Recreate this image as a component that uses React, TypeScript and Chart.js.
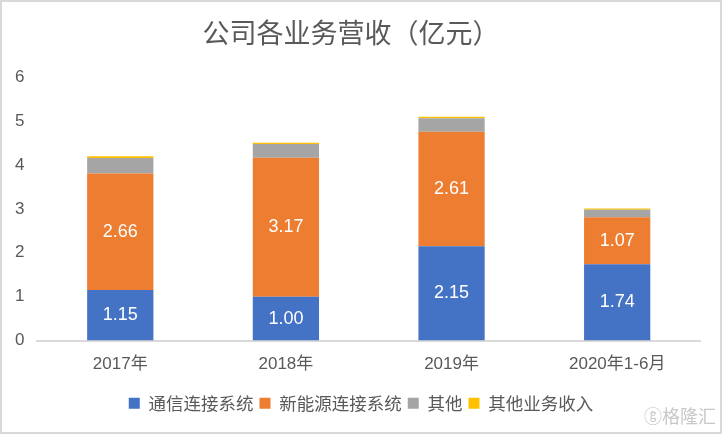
import React, { useEffect, useRef } from "react";
import { Chart, registerables } from "chart.js";

Chart.register(...registerables);

const categories = ["2017年", "2018年", "2019年", "2020年1-6月"];
const telecom = [1.15, 1.0, 2.15, 1.74];
const newEnergy = [2.66, 3.17, 2.61, 1.07];
const others = [0.35, 0.31, 0.31, 0.17];
const otherBiz = [0.04, 0.03, 0.03, 0.03];
const seriesNames = ["通信连接系统", "新能源连接系统", "其他", "其他业务收入"];
const colors = ["#4472C4", "#ED7D31", "#A5A5A5", "#FFC000"];
const yTicks = [0, 1, 2, 3, 4, 5, 6];

const FONT = "'Liberation Sans', 'Noto Sans CJK SC', sans-serif";
const CJK = "'Noto Sans CJK SC', 'Noto Sans', sans-serif";

const labelPlugin = {
  id: "barLabels",
  afterLayout(chart: any) {
    // centre the legend on the whole picture rather than on the padded canvas
    if (chart.legend) {
      chart.legend.left += 10;
      chart.legend.right += 10;
    }
  },
  afterDatasetsDraw(chart: any) {
    const ctx = chart.ctx;
    ctx.save();
    ctx.fillStyle = "#FFFFFF";
    ctx.font = `18px 'Liberation Sans', sans-serif`;
    ctx.textAlign = "center";
    ctx.textBaseline = "middle";
    [0, 1].forEach((di) => {
      const meta = chart.getDatasetMeta(di);
      meta.data.forEach((bar: any, i: number) => {
        const v = chart.data.datasets[di].data[i] as number;
        const y = (bar.y + bar.base) / 2;
        ctx.fillText(v.toFixed(2), bar.x, y);
      });
    });
    ctx.restore();
  },
};

export default function App() {
  const ref = useRef<HTMLCanvasElement>(null);
  useEffect(() => {
    document.body.style.margin = "0";
    if (!ref.current) return;
    const data = [telecom, newEnergy, others, otherBiz];
    const chart = new Chart(ref.current, {
      type: "bar",
      data: {
        labels: categories,
        datasets: data.map((d, i) => ({
          label: seriesNames[i],
          data: d,
          backgroundColor: colors[i],
          borderWidth: 0,
          categoryPercentage: 1,
          barPercentage: 0.4,
        })),
      },
      options: {
        animation: false,
        responsive: false,
        maintainAspectRatio: false,
        layout: { padding: { left: 0, right: 20, top: 0, bottom: 10 } },
        plugins: {
          title: {
            display: true,
            text: "公司各业务营收（亿元）",
            color: "#595959",
            font: { family: CJK, size: 27, weight: "normal" },
            padding: { top: 15, bottom: 28 },
          },
          legend: {
            position: "bottom",
            labels: {
              color: "#595959",
              font: { family: CJK, size: 17.5 },
              boxWidth: 11,
              boxHeight: 11,
              padding: 6,
            },
          },
          tooltip: { enabled: false },
        },
        scales: {
          x: {
            stacked: true,
            grid: { display: false, drawTicks: false },
            border: { display: true, color: "#D9D9D9", width: 2 },
            ticks: { color: "#595959", font: { family: FONT, size: 17 }, padding: 14 },
            afterFit: (axis: any) => {
              axis.height = 48;
            },
          },
          y: {
            stacked: true,
            min: 0,
            max: 6,
            afterBuildTicks: (axis: any) => {
              axis.ticks = yTicks.map((v) => ({ value: v }));
            },
            grid: { display: false, drawTicks: false },
            border: { display: false },
            ticks: { color: "#595959", font: { family: FONT, size: 17 }, padding: 13 },
          },
        },
      },
      plugins: [labelPlugin],
    });
    return () => chart.destroy();
  }, []);
  return (
    <div
      style={{
        width: 722,
        height: 434,
        boxSizing: "border-box",
        border: "2px solid #D9D9D9",
        background: "#fff",
        position: "relative",
      }}
    >
      <canvas ref={ref} width={718} height={430} style={{ display: "block" }} />
      <div
        style={{
          position: "absolute",
          right: 4,
          bottom: 4,
          color: "#C8C8C8",
          fontFamily: CJK,
          fontSize: 18,
        }}
      >
        ⓖ格隆汇
      </div>
    </div>
  );
}
